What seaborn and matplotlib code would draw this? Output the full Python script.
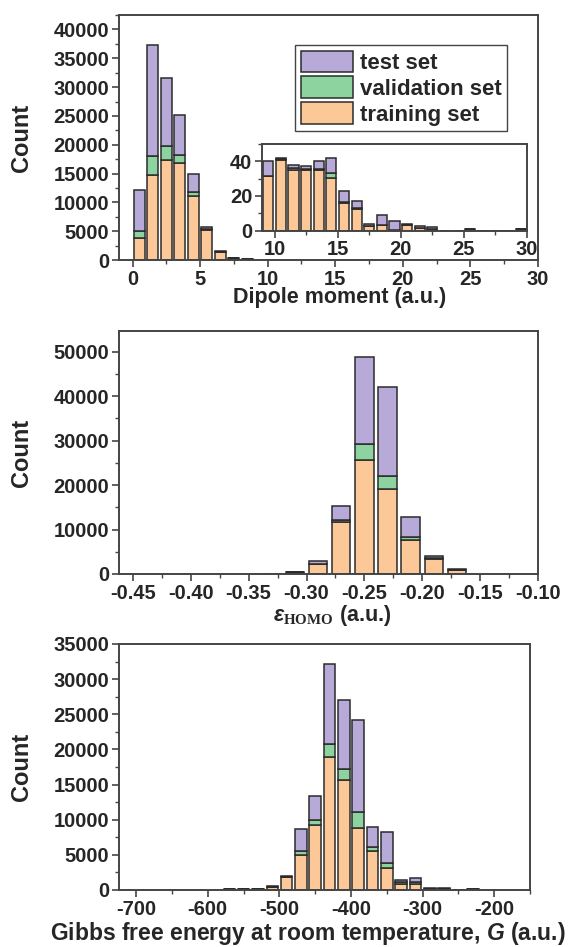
import numpy as np
import pandas as pd
import seaborn as sns
import matplotlib
matplotlib.use("Agg")
import matplotlib.pyplot as plt
from matplotlib.ticker import MultipleLocator

# data (counts per bin)
set_names = ['test set', 'validation set', 'training set']
set_colors = ['#B7A9D8', '#8DD3A0', '#FDC897']

# dipole moment, main histogram (bin centres)
dip_x = [0.5, 1.5, 2.5, 3.5, 4.5, 5.5, 6.5, 7.5, 8.5]
dip_train = [3900, 14700, 17300, 16800, 11100, 5150, 1450, 350, 130]
dip_val = [1100, 3300, 2450, 1400, 700, 150, 30, 10, 5]
dip_test = [7100, 19300, 11850, 7000, 3060, 500, 80, 40, 15]

# dipole moment, inset (tail)
tail_x = [9.5, 10.5, 11.5, 12.5, 13.5, 14.5, 15.5, 16.5, 17.5, 18.5, 19.5,
          20.5, 21.5, 22.5, 23.5, 24.5, 25.5, 26.5, 27.5, 28.5, 29.5]
tail_train = [31.7, 41, 35, 35, 35, 30.6, 16.2, 12.5, 2.7, 3.5, 0.5,
              3.5, 1.5, 1, 0, 0, 1, 0, 0, 0, 1]
tail_val = [0, 0.5, 1, 0.5, 0.5, 2.5, 0.5, 0.5, 0.2, 0, 0,
            0, 0, 0, 0, 0, 0, 0, 0, 0, 0]
tail_test = [8.5, 0.6, 2, 1.5, 4.7, 9, 6.2, 4.3, 1, 5.6, 5,
             0.4, 1.4, 1.1, 0, 0, 0, 0, 0, 0, 0]

# HOMO energy
homo_x = [-0.33, -0.31, -0.29, -0.27, -0.25, -0.23, -0.21, -0.19, -0.17]
homo_train = [80, 400, 2250, 11600, 25700, 19100, 7700, 3300, 900]
homo_val = [0, 20, 100, 600, 3500, 3000, 600, 200, 50]
homo_test = [20, 80, 650, 3100, 19700, 19900, 4500, 550, 250]

# Gibbs free energy
gibbs_x = [-570, -550, -530, -510, -490, -470, -450, -430, -410,
           -390, -370, -350, -330, -310, -290, -270, -250, -230]
gibbs_train = [100, 100, 120, 380, 1850, 5000, 9300, 18900, 15600,
               8800, 5600, 3100, 900, 900, 200, 200, 0, 100]
gibbs_val = [0, 0, 0, 20, 50, 550, 600, 1900, 1650,
             2300, 450, 800, 200, 300, 0, 0, 0, 0]
gibbs_test = [50, 50, 60, 170, 150, 3100, 3500, 11350, 9800,
              13050, 2900, 4300, 330, 560, 80, 80, 0, 50]


def long_df(x, train, val, test):
    n = len(x)
    return pd.DataFrame({
        'x': list(x) * 3,
        'count': list(test) + list(val) + list(train),
        'set': np.repeat(set_names, n),
    })


sns.set_style('ticks')
plt.rcParams['font.family'] = ['Liberation Sans', 'DejaVu Sans']
plt.rcParams['font.weight'] = 'bold'
plt.rcParams['axes.labelweight'] = 'bold'
plt.rcParams['axes.unicode_minus'] = False
plt.rcParams['mathtext.fontset'] = 'custom'
plt.rcParams['mathtext.it'] = 'Liberation Sans:italic:bold'
plt.rcParams['mathtext.rm'] = 'Liberation Serif'
plt.rcParams['axes.edgecolor'] = '#444444'
plt.rcParams['axes.linewidth'] = 1.4

fig = plt.figure(figsize=(5.79, 9.47), dpi=100)
ax1 = fig.add_axes([0.2055, 0.7254, 0.7237, 0.2587])
ax2 = fig.add_axes([0.2055, 0.3939, 0.7237, 0.2566])
ax3 = fig.add_axes([0.2055, 0.0602, 0.7100, 0.2598])
axin = fig.add_axes([0.4525, 0.7564, 0.4577, 0.0916])

TICK = 14.5


def stacked(ax, df, width, lo, hi, legend=False):
    sns.histplot(data=df, x='x', weights='count', hue='set', hue_order=set_names,
                 palette=set_colors, multiple='stack', binwidth=width,
                 binrange=(lo, hi), shrink=0.8, edgecolor='#2b2b2b',
                 linewidth=1.1, alpha=1, legend=legend, ax=ax)


def style(ax, xmaj, xmin, ymaj, ymin, size=TICK):
    ax.xaxis.set_major_locator(MultipleLocator(xmaj))
    ax.xaxis.set_minor_locator(MultipleLocator(xmin))
    ax.yaxis.set_major_locator(MultipleLocator(ymaj))
    ax.yaxis.set_minor_locator(MultipleLocator(ymin))
    ax.tick_params(which='major', direction='out', length=5, width=1.2,
                   labelsize=size, color='#444444', pad=2)
    ax.tick_params(which='minor', direction='out', length=3, width=1.0,
                   color='#444444')
    for lab in ax.get_xticklabels() + ax.get_yticklabels():
        lab.set_fontweight('bold')


# panel 1: dipole moment
stacked(ax1, long_df(dip_x, dip_train, dip_val, dip_test), 1, 0, 9, legend=True)
ax1.set_xlim(-1, 30)
ax1.set_ylim(0, 42500)
style(ax1, 5, 2.5, 5000, 2500)
ax1.set_xlabel('Dipole moment (a.u.)', fontsize=15.5)
ax1.xaxis.set_label_coords(0.527, -0.112)
ax1.set_ylabel('Count', fontsize=17)
ax1.yaxis.set_label_coords(-0.205, 0.5)
sns.move_legend(ax1, loc='upper right', bbox_to_anchor=(0.926, 0.878), title=None,
                frameon=True, fontsize=16, borderaxespad=0, handlelength=2.35,
                handleheight=1.1, labelspacing=0.12, handletextpad=0.3,
                borderpad=0.25, fancybox=False, edgecolor='#444444', framealpha=1)

# inset: tail of dipole distribution
stacked(axin, long_df(tail_x, tail_train, tail_val, tail_test), 1, 9, 30)
axin.set_xlim(9, 30)
axin.set_ylim(0, 50)
style(axin, 5, 2.5, 20, 10)
axin.set_xlabel('')
axin.set_ylabel('')

# panel 2: HOMO energy
stacked(ax2, long_df(homo_x, homo_train, homo_val, homo_test), 0.02, -0.34, -0.16)
ax2.set_xlim(-0.462, -0.10)
ax2.set_ylim(0, 54700)
style(ax2, 0.05, 0.025, 10000, 5000)
ax2.xaxis.set_major_formatter(plt.FuncFormatter(lambda v, p: f'{v:.2f}'))
ax2.set_xlabel(r'$\varepsilon_{\mathrm{HOMO}}$ (a.u.)', fontsize=15.5)
ax2.xaxis.set_label_coords(0.51, -0.118)
ax2.set_ylabel('Count', fontsize=17)
ax2.yaxis.set_label_coords(-0.205, 0.5)

# panel 3: Gibbs free energy
stacked(ax3, long_df(gibbs_x, gibbs_train, gibbs_val, gibbs_test), 20, -580, -220)
ax3.set_xlim(-724, -150)
ax3.set_ylim(0, 35000)
style(ax3, 100, 50, 5000, 2500)
ax3.set_xlabel('Gibbs free energy at room temperature, $G$ (a.u.)', fontsize=16.5)
ax3.xaxis.set_label_coords(0.46, -0.122)
ax3.set_ylabel('Count', fontsize=17)
ax3.yaxis.set_label_coords(-0.209, 0.5)

fig.savefig('out.png', dpi=100)
